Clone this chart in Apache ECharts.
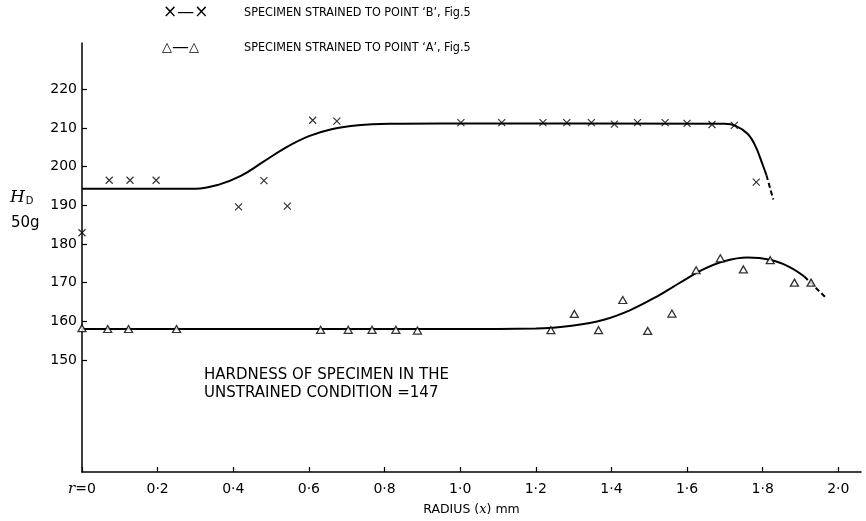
<!DOCTYPE html>
<html>
<head>
<meta charset="utf-8">
<script src="https://cdn.jsdelivr.net/npm/echarts@6/dist/echarts.min.js"></script>
<style>
  html, body { margin: 0; padding: 0; background: #fff; }
  #main { width: 866px; height: 521px; }
</style>
</head>
<body>
<div id="main"></div>
<script>
// 刻度
var xTicks = [0, 0.2, 0.4, 0.6, 0.8, 1.0, 1.2, 1.4, 1.6, 1.8, 2.0];
var xTickLabels = ['r=0', '0·2', '0·4', '0·6', '0·8', '1·0', '1·2', '1·4', '1·6', '1·8', '2·0'];
var yTicks = [150, 160, 170, 180, 190, 200, 210, 220];

// 点 B (×)
var bX = [0, 0.072, 0.127, 0.196, 0.414, 0.481, 0.543, 0.610, 0.674, 1.002, 1.110, 1.219, 1.282, 1.347, 1.408, 1.469, 1.542, 1.600, 1.666, 1.725, 1.783];
var bY = [182.9, 196.5, 196.5, 196.5, 189.6, 196.4, 189.8, 212, 211.8, 211.4, 211.4, 211.4, 211.4, 211.4, 211.0, 211.4, 211.4, 211.2, 210.9, 210.7, 196];

// 点 A (△)
var aX = [0, 0.068, 0.123, 0.25, 0.631, 0.704, 0.767, 0.83, 0.887, 1.240, 1.302, 1.366, 1.430, 1.496, 1.560, 1.624, 1.688, 1.749, 1.820, 1.884, 1.928];
var aY = [158.2, 158, 158, 158, 157.8, 157.8, 157.8, 157.8, 157.6, 157.7, 161.9, 157.7, 165.5, 157.5, 162, 173.2, 176.3, 173.4, 175.8, 170, 170];

// 曲线 B
var curveBX = [0, 0.30, 0.36, 0.42, 0.48, 0.54, 0.60, 0.66, 0.73, 0.82, 0.95, 1.70, 1.73, 1.76, 1.78, 1.80, 1.81];
var curveBY = [194.3, 194.3, 195.3, 197.6, 201.3, 205, 207.9, 209.7, 210.7, 211.1, 211.2, 211.1, 210.5, 208.5, 205.5, 200.5, 197.8];
var dashBX = [1.81, 1.828];
var dashBY = [197.8, 191.5];

// 曲线 A
var curveAX = [0, 1.0, 1.20, 1.30, 1.38, 1.45, 1.52, 1.58, 1.64, 1.70, 1.76, 1.82, 1.87, 1.91];
var curveAY = [158, 158, 158.1, 158.9, 160.4, 162.9, 166.4, 169.9, 173.3, 175.6, 176.5, 175.9, 174.1, 171.6];
var dashAX = [1.91, 1.966];
var dashAY = [171.6, 166.2];

function pairs(xs, ys) {
    return xs.map(function (x, i) { return [x, ys[i]]; });
}

var FONT = 'DejaVu Sans';
var NARROW = "'DejaVu Sans Condensed', 'DejaVu Sans'";
var crossPath = 'path://M0,0L10,10M10,0L0,10';

var myChart = echarts.init(document.getElementById('main'));

option = {
    backgroundColor: '#fff',
    animation: false,
    grid: {
        left: 82,
        top: 43,
        width: 779,
        height: 429
    },
    xAxis: {
        type: 'value',
        min: 0,
        max: 2.06,
        name: 'RADIUS ({i|x}) mm',
        nameLocation: 'middle',
        nameGap: 31,
        nameTextStyle: {
            color: '#000',
            fontFamily: FONT,
            fontSize: 12.5,
            rich: {
                i: { fontStyle: 'italic', fontFamily: 'DejaVu Serif', fontSize: 13, color: '#000' }
            }
        },
        axisLine: { lineStyle: { color: '#000', width: 1.5 } },
        axisTick: {
            inside: true,
            length: 5,
            customValues: xTicks,
            lineStyle: { color: '#000', width: 1.2 }
        },
        axisLabel: {
            customValues: xTicks,
            margin: 10,
            color: '#000',
            fontFamily: FONT,
            fontSize: 14,
            formatter: function (v) {
                var i = xTicks.indexOf(v);
                var s = i >= 0 ? xTickLabels[i] : '';
                if (s.charAt(0) === 'r') return '{i|r}' + s.slice(1);
                return s;
            },
            rich: {
                i: { fontStyle: 'italic', fontFamily: 'DejaVu Serif', fontSize: 15, color: '#000' }
            }
        },
        splitLine: { show: false }
    },
    yAxis: {
        type: 'value',
        min: 121,
        max: 232,
        axisLine: { show: true, lineStyle: { color: '#000', width: 1.5 } },
        axisTick: {
            show: true,
            inside: true,
            length: 5,
            customValues: yTicks,
            lineStyle: { color: '#000', width: 1.2 }
        },
        axisLabel: {
            customValues: yTicks,
            margin: 5,
            color: '#000',
            fontFamily: FONT,
            fontSize: 14
        },
        splitLine: { show: false }
    },
    graphic: [
        { type: 'text', left: 163, top: 4, style: { text: '×—×', fontFamily: FONT, fontSize: 17, fill: '#000' } },
        { type: 'text', left: 244, top: 6, style: { text: 'SPECIMEN STRAINED TO POINT ‘B’, Fig.5', fontFamily: NARROW, fontSize: 12.5, fill: '#000' } },
        {
            type: 'text', left: 162, top: 39,
            style: {
                text: '{t|△}{d|—}{t|△}',
                rich: {
                    t: { fontFamily: FONT, fontSize: 13, fill: '#000' },
                    d: { fontFamily: FONT, fontSize: 17, fill: '#000' }
                }
            }
        },
        { type: 'text', left: 244, top: 41, style: { text: 'SPECIMEN STRAINED TO POINT ‘A’, Fig.5', fontFamily: NARROW, fontSize: 12.5, fill: '#000' } },
        { type: 'text', left: 204, top: 366, style: { text: 'HARDNESS OF SPECIMEN IN THE\nUNSTRAINED CONDITION =147', fontFamily: FONT, fontSize: 15, lineHeight: 18, fill: '#000' } },
        {
            type: 'text', left: 10, top: 189,
            style: {
                text: '{h|H}{d|D}',
                rich: {
                    h: { fontFamily: 'DejaVu Serif', fontStyle: 'italic', fontSize: 17, fill: '#000' },
                    d: { fontFamily: FONT, fontSize: 10, fill: '#000', padding: [8, 0, 0, 1] }
                }
            }
        },
        { type: 'text', left: 11, top: 216, style: { text: '50g', fontFamily: FONT, fontSize: 15, fill: '#000' } }
    ],
    series: [
        {
            name: 'curveB',
            type: 'line',
            data: pairs(curveBX, curveBY),
            smooth: 0.4,
            showSymbol: false,
            lineStyle: { color: '#000', width: 2 },
            silent: true
        },
        {
            name: 'dashB',
            type: 'line',
            data: pairs(dashBX, dashBY),
            showSymbol: false,
            lineStyle: { color: '#000', width: 2, type: [5, 3] },
            silent: true
        },
        {
            name: 'curveA',
            type: 'line',
            data: pairs(curveAX, curveAY),
            smooth: 0.4,
            showSymbol: false,
            lineStyle: { color: '#000', width: 2 },
            silent: true
        },
        {
            name: 'dashA',
            type: 'line',
            data: pairs(dashAX, dashAY),
            showSymbol: false,
            lineStyle: { color: '#000', width: 2, type: [5, 3] },
            silent: true
        },
        {
            name: 'B',
            type: 'scatter',
            data: pairs(bX, bY),
            symbol: crossPath,
            symbolSize: 7,
            itemStyle: { color: 'none', borderColor: '#000', borderWidth: 1.2 },
            z: 5
        },
        {
            name: 'A',
            type: 'scatter',
            data: pairs(aX, aY),
            symbol: 'triangle',
            symbolSize: [8, 7],
            itemStyle: { color: '#fff', borderColor: '#000', borderWidth: 1.3 },
            z: 5
        }
    ]
};

myChart.setOption(option);
</script>
</body>
</html>
